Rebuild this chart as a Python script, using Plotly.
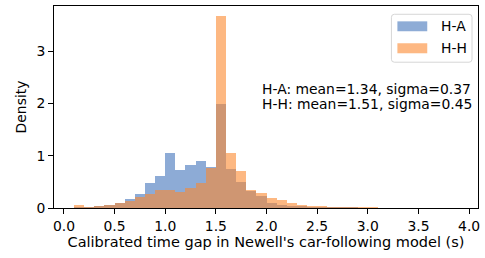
import plotly.graph_objects as go

bin_left = [round(0.1 * i, 1) for i in range(40)]

ha_density = [0.0, 0.005, 0.005, 0.02, 0.05, 0.10, 0.17, 0.27, 0.47, 0.62,
              1.06, 0.72, 0.82, 0.89, 0.78, 1.99, 0.74, 0.50, 0.32, 0.225,
              0.10, 0.065, 0.04, 0.02, 0.01, 0.005, 0.003, 0.002, 0.001, 0.0,
              0.0, 0.0, 0.0, 0.0, 0.0, 0.0, 0.0, 0.0, 0.0, 0.0]

hh_density = [0.0, 0.05, 0.01, 0.03, 0.06, 0.10, 0.135, 0.205, 0.27, 0.34,
              0.34, 0.30, 0.38, 0.48, 0.76, 3.67, 1.05, 0.70, 0.34, 0.29,
              0.185, 0.15, 0.096, 0.05, 0.03, 0.025, 0.01, 0.008, 0.005, 0.003,
              0.002, 0.0, 0.0, 0.0, 0.0, 0.0, 0.0, 0.0, 0.0, 0.0]

series_names = ["H-A", "H-H"]
bin_width = 0.1
x_ticks = [0.0, 0.5, 1.0, 1.5, 2.0, 2.5, 3.0, 3.5, 4.0]
y_ticks = [0, 1, 2, 3]
stats_text = "H-A: mean=1.34, sigma=0.37<br>H-H: mean=1.51, sigma=0.45"

centers = [b + bin_width / 2 for b in bin_left]

FONT = "DejaVu Sans"
FS = 13.9
COLORS = ["#4375bb", "#fc8930"]
ALPHA = 0.6

fig = go.Figure()
for name, vals, col in zip(series_names, [ha_density, hh_density], COLORS):
    fig.add_trace(go.Bar(x=centers, y=vals, width=bin_width, name=name,
                         marker=dict(color=col, line=dict(width=0)),
                         opacity=ALPHA, showlegend=False))

# custom legend (matplotlib style: wide patches inside a rounded box)
def rounded_box(x0, y0, x1, y1, rx, ry):
    return (f"M {x0+rx},{y0} L {x1-rx},{y0} Q {x1},{y0} {x1},{y0+ry} "
            f"L {x1},{y1-ry} Q {x1},{y1} {x1-rx},{y1} L {x0+rx},{y1} "
            f"Q {x0},{y1} {x0},{y1-ry} L {x0},{y0+ry} Q {x0},{y0} {x0+rx},{y0} Z")

shapes = [dict(type="path", xref="paper", yref="paper",
               path=rounded_box(0.7958, 0.7217, 0.9859, 0.959, 0.007, 0.0148),
               line=dict(color="#d6d6d6", width=1), fillcolor="rgba(255,255,255,0.8)")]
annotations = []
patch_rows = [(0.875, 0.924, 0.8997), (0.766, 0.8156, 0.791)]
for name, col, (py0, py1, ty) in zip(series_names, COLORS, patch_rows):
    shapes.append(dict(type="rect", xref="paper", yref="paper",
                       x0=0.8099, x1=0.8803, y0=py0, y1=py1,
                       fillcolor=col, opacity=ALPHA, line=dict(width=0)))
    annotations.append(dict(text=name, xref="paper", yref="paper", x=0.9085, y=ty,
                            xanchor="left", yanchor="middle", showarrow=False,
                            font=dict(family=FONT, size=FS)))

annotations.append(dict(text="H-A: mean=1.34, sigma=0.37", xref="paper", yref="paper",
                        x=0.486, y=0.588, xanchor="left", yanchor="middle",
                        showarrow=False, align="left", font=dict(family=FONT, size=FS)))
annotations.append(dict(text="H-H: mean=1.51, sigma=0.45", xref="paper", yref="paper",
                        x=0.486, y=0.514, xanchor="left", yanchor="middle",
                        showarrow=False, align="left", font=dict(family=FONT, size=FS)))

fig.update_layout(
    width=485, height=258,
    margin=dict(l=54, r=5, t=6, b=50),
    barmode="overlay", bargap=0,
    plot_bgcolor="white", paper_bgcolor="white",
    font=dict(family=FONT, size=FS, color="black"),
    showlegend=False,
    shapes=shapes,
    annotations=annotations,
)
fig.update_xaxes(range=[-0.098, 4.088], tickvals=x_ticks, tickformat=".1f",
                 ticks="outside", ticklen=5, tickwidth=1, tickcolor="black",
                 showline=True, linecolor="black", linewidth=1, mirror=True,
                 showgrid=False, zeroline=False,
                 title=dict(text="Calibrated time gap in Newell's car-following model (s)",
                            font=dict(family=FONT, size=14.5), standoff=4))
fig.update_yaxes(range=[0, 3.86], tickvals=y_ticks,
                 ticks="outside", ticklen=5, tickwidth=1, tickcolor="black",
                 showline=True, linecolor="black", linewidth=1, mirror=True,
                 showgrid=False, zeroline=False,
                 title=dict(text="Density", font=dict(family=FONT, size=FS), standoff=6))

fig.write_html("out.html", config={"displayModeBar": False},
               post_script="document.body.style.margin='0';")
